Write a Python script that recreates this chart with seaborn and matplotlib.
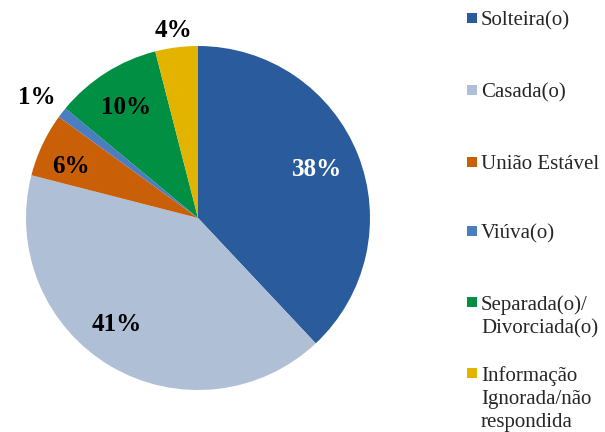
import matplotlib
matplotlib.use("Agg")
import matplotlib.pyplot as plt
from matplotlib.patches import Rectangle
import seaborn as sns

# Data
categories = ['Solteira(o)', 'Casada(o)', 'União Estável', 'Viúva(o)',
              'Separada(o)/\nDivorciada(o)', 'Informação\nIgnorada/não\nrespondida']
shares = [38, 41, 6, 1, 10, 4]
colours = ['#2A5B9C', '#AFC0D6', '#C95F06', '#4A7EC0', '#008F43', '#E2B400']

sns.set_style("white")
plt.rcParams['font.family'] = ['Liberation Serif', 'DejaVu Serif']

W, H = 605, 432
fig = plt.figure(figsize=(W / 100, H / 100), dpi=100)

# pie axes: centre (198, 218) px, radius ~172 px
ax = fig.add_axes([26 / W, (H - 390) / H, 344 / W, 344 / H])
palette = sns.color_palette(colours)
wedges, texts, autotexts = ax.pie(shares, colors=palette, startangle=90,
                                  counterclock=False, autopct='%1.0f%%',
                                  wedgeprops=dict(linewidth=0))
ax.set_xlim(-1, 1)
ax.set_ylim(-1, 1)
ax.set_aspect('equal')
ax.axis('off')

# label positions (radius units), as placed in the original
label_pos = [(0.69, 0.28), (-0.47, -0.62), (-0.74, 0.30),
             (-0.94, 0.70), (-0.42, 0.64), (-0.14, 1.09)]
for t, pos in zip(autotexts, label_pos):
    t.set_position(pos)
    t.set_fontsize(18)
    t.set_fontweight('bold')
    t.set_color('black')
    t.set_ha('center')
    t.set_va('center')
autotexts[0].set_color('white')

# legend drawn by hand so the markers sit on the first line
legend_y = [18, 90, 162, 231, 302, 373]
for lab, col, y in zip(categories, palette, legend_y):
    fig.add_artist(Rectangle((467 / W, 1 - (y + 5) / H), 10 / W, 10 / H,
                             transform=fig.transFigure, facecolor=col,
                             edgecolor='none'))
    fig.text(481 / W, 1 - (y - 7) / H, lab, fontsize=15, va='top',
             ha='left', linespacing=1.3)

fig.savefig('out.png', dpi=100)
